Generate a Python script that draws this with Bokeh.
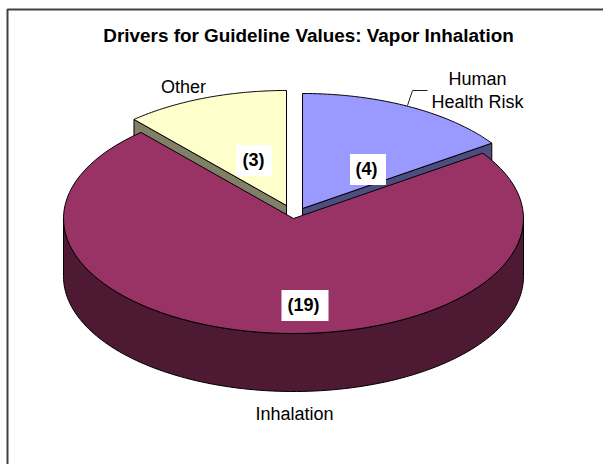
import numpy as np
from bokeh.plotting import figure
from bokeh.models import Range1d
from bokeh.core.properties import value
from bokeh.embed import file_html
from bokeh.resources import INLINE

title = "Drivers for Guideline Values: Vapor Inhalation"
names = ["Human Health Risk", "Inhalation", "Other"]
counts = [4, 19, 3]
tops = ["#9999ff", "#993366", "#ffffcc"]
walls = ["#4d4d80", "#4d1933", "#808066"]

W, H = 603, 464
RX, RY, DEPTH = 230, 115, 58
centers = [(302, 208), (293, 218), (286, 205)]

p = figure(width=W, height=H, x_range=Range1d(0, W), y_range=Range1d(H, 0),
           toolbar_location=None, output_backend="svg", min_border=0,
           outline_line_color=None)
p.xaxis.visible = False
p.yaxis.visible = False
p.grid.visible = False
p.background_fill_color = "white"

# frame
p.line([7, 7, 603], [464, 9, 9], line_color="#404040", line_width=2)

edges = np.cumsum([0] + counts) / sum(counts) * 2 * np.pi
def pt(c, t, d=0):
    return c[0] + RX * np.sin(t), c[1] - RY * np.cos(t) + d

def wedge(c, a, b):
    t = np.linspace(a, b, 90)
    x, y = pt(c, t)
    return [c[0], *x], [c[1], *y]

def cut_face(c, t):
    x, y = pt(c, t)
    return [c[0], x, x, c[0]], [c[1], y, y + DEPTH, c[1] + DEPTH]

# cut faces of the pulled-out slices, mostly hidden by the big slice
p.patch(*cut_face(centers[2], edges[2]), fill_color=walls[2], line_color="black", line_width=1)
p.patch(*cut_face(centers[0], edges[1]), fill_color=walls[0], line_color="black", line_width=1)
p.patch(*wedge(centers[2], edges[2], edges[3]), fill_color=tops[2], line_color="black", line_width=1)
p.patch(*wedge(centers[0], edges[0], edges[1]), fill_color=tops[0], line_color="black", line_width=1)

# rim of the big slice
t = np.linspace(np.pi / 2, 3 * np.pi / 2, 120)
x, y = pt(centers[1], t)
xb, yb = pt(centers[1], t[::-1], DEPTH)
p.patch([*x, *xb], [*y, *yb], fill_color=walls[1], line_color="black", line_width=1)
p.patch(*wedge(centers[1], edges[1], edges[2]), fill_color=tops[1], line_color="black", line_width=1)

# leader
p.line([407, 412, 427], [105, 90, 90], line_color="#222222", line_width=1)

# value labels
lab_x = [367.5, 304.5, 253.5]
lab_y = [169, 305, 160]
lab_w = [36, 47, 36]
lab_h = [31, 31, 31]
p.rect(lab_x, lab_y, lab_w, lab_h, fill_color="white", line_color=None)
p.text([366, 303, 253], [y - 1 for y in lab_y], text=[f"({c})" for c in counts],
       text_font=value("Liberation Sans"),
       text_font_style="bold", text_font_size="18px", text_align="center",
       text_baseline="middle", text_color="black")

# category labels
p.text([477, 477, 294, 183], [78, 101, 413, 86], text=["Human", "Health Risk", names[1], names[2]],
       text_font=value("Liberation Sans"), text_font_size="18px", text_align="center",
       text_baseline="middle", text_color="black")
p.text([308], [35], text=[title], text_font=value("Liberation Sans"), text_font_style="bold",
       text_font_size="18.9px", text_align="center", text_baseline="middle", text_color="black")

open("out.html", "w").write(file_html(p, INLINE))
